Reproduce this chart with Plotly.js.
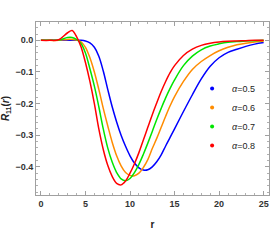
<!DOCTYPE html>
<html>
<head>
<meta charset="utf-8">
<script src="https://cdn.plot.ly/plotly-3.0.1.min.js"></script>
<style>html,body{margin:0;padding:0;background:#fff;}#chart{width:273px;height:245px;}</style>
</head>
<body>
<div id="chart"></div>
<script>
const r = [0,1,2,3,3.5,4,4.5,5,5.5,6,6.5,7,7.5,8,8.5,9,9.5,10,10.5,11,11.5,12,12.5,13,13.5,14,14.5,15,16,17,18,19,20,21,22,23,24,25];
const seriesNames = ["α=0.5","α=0.6","α=0.7","α=0.8"];
const R_a05 = [0,0,0,0,0,0,0,-0.002,-0.008,-0.022,-0.05,-0.097,-0.155,-0.21,-0.258,-0.3,-0.335,-0.365,-0.388,-0.403,-0.41,-0.409,-0.4,-0.384,-0.362,-0.334,-0.307,-0.28,-0.225,-0.172,-0.122,-0.082,-0.055,-0.038,-0.028,-0.019,-0.012,-0.007];
const R_a06 = [0,0,0,0.003,0.003,0.001,-0.005,-0.022,-0.055,-0.1,-0.155,-0.215,-0.27,-0.322,-0.365,-0.397,-0.418,-0.427,-0.428,-0.42,-0.402,-0.377,-0.342,-0.31,-0.275,-0.24,-0.207,-0.178,-0.13,-0.092,-0.067,-0.048,-0.033,-0.022,-0.014,-0.009,-0.005,-0.003];
const R_a07 = [0,0,0.001,0.009,0.009,0.003,-0.01,-0.04,-0.09,-0.145,-0.21,-0.28,-0.34,-0.385,-0.418,-0.438,-0.444,-0.437,-0.418,-0.392,-0.36,-0.325,-0.288,-0.25,-0.215,-0.182,-0.152,-0.125,-0.08,-0.05,-0.03,-0.018,-0.011,-0.006,-0.004,-0.002,-0.001,0];
const R_a08 = [0,0,0.002,0.024,0.031,0.012,-0.02,-0.07,-0.13,-0.2,-0.28,-0.345,-0.395,-0.43,-0.452,-0.457,-0.445,-0.42,-0.39,-0.355,-0.315,-0.275,-0.235,-0.198,-0.162,-0.13,-0.102,-0.08,-0.048,-0.028,-0.016,-0.009,-0.005,-0.003,-0.002,-0.001,0,0];
const colors = ["#0000ff","#ff8c00","#00e600","#ff0000"];
const ys = [R_a05,R_a06,R_a07,R_a08];

const traces = [];
ys.forEach((y,i)=>{
  traces.push({x:r, y:y, mode:'lines', line:{color:colors[i], width:1.5, shape:'spline', smoothing:1}, showlegend:false, hoverinfo:'skip'});
});
ys.forEach((y,i)=>{
  traces.push({x:[null], y:[null], mode:'markers', marker:{color:colors[i], size:4}, name:'<i>α</i>=' + seriesNames[i].split('=')[1], showlegend:true});
});

const axisCommon = {
  showline:true, linecolor:'#a0a0a0', linewidth:1, mirror:'allticks',
  ticks:'inside', ticklen:4, tickcolor:'#a0a0a0', tickwidth:1,
  showgrid:false, zeroline:false,
  tickfont:{family:'Liberation Sans, Arial, sans-serif', size:9, color:'#333', weight:'bold'}
};
const layout = {
  width:273, height:245,
  margin:{l:36, r:4, t:22, b:50},
  paper_bgcolor:'#fff', plot_bgcolor:'#fff',
  showlegend:true,
  legend:{x:0.67, y:0.7, xanchor:'left', yanchor:'top', bgcolor:'rgba(0,0,0,0)', font:{family:'Liberation Sans, Arial, sans-serif', size:9, color:'#222'}, itemwidth:30, tracegroupgap:0},
  xaxis: Object.assign({}, axisCommon, {
    range:[-0.55,25.6], tickvals:[0,5,10,15,20,25], ticktext:['0','5','10','15','20','25'],
    minor:{dtick:1, ticks:'inside', ticklen:2, tickcolor:'#b0b0b0', showgrid:false},
    title:{text:'r', font:{family:'Liberation Sans, Arial, sans-serif', size:10, color:'#222', weight:'bold'}, standoff:13}
  }),
  yaxis: Object.assign({}, axisCommon, {
    range:[-0.489,0.058], tickvals:[0,-0.1,-0.2,-0.3,-0.4], ticktext:['0.0','−0.1','−0.2','−0.3','−0.4'],
    minor:{dtick:0.02, ticks:'inside', ticklen:2, tickcolor:'#b0b0b0', showgrid:false},
    title:{text:'<i>R</i><sub>11</sub>(<i>r</i>)', font:{family:'Liberation Sans, Arial, sans-serif', size:10, color:'#222', weight:'bold'}, standoff:4}
  })
};
Plotly.newPlot('chart', traces, layout, {staticPlot:true, displayModeBar:false});
</script>
</body>
</html>
